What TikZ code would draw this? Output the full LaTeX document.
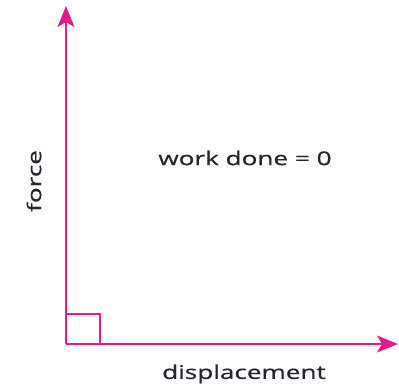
\documentclass[tikz,border=0pt]{standalone}
\usepackage{fontspec}
\setmainfont{Open Sans}
\newfontfamily\lblfont{Open Sans}[FakeBold=0.5]
\usetikzlibrary{arrows.meta}
\definecolor{axcol}{RGB}{226,28,140}
\definecolor{txtcol}{RGB}{38,36,48}
\newcommand{\wide}[1]{\scalebox{1.38}[1]{#1}}
\tikzset{
  axis/.style={draw=axcol, line width=1.8bp, -{Stealth[length=21bp,width=17bp,inset=5bp]}},
  lbl/.style={text=txtcol, font=\lblfont\fontsize{19}{22}\selectfont, inner sep=0pt}
}
\begin{document}
\begin{tikzpicture}[x=1bp,y=-1bp]
\useasboundingbox (0,0) rectangle (399,386);
\coordinate (o) at (66,344);
\coordinate (ytop) at (66,6);
\coordinate (xend) at (398,344);
\draw[axis] (o) -- (ytop);
\draw[axis] (o) -- (xend);
\draw[draw=axcol, line width=1.8bp] (66,314) -- (100,314) -- (100,344);
\node[lbl, rotate=90] (force) at (34,181) {\wide{force}};
\node[lbl] (work) at (245,158) {\wide{work done = 0}};
\node[lbl] (disp) at (244,374) {\wide{displacement}};
\end{tikzpicture}
\end{document}
